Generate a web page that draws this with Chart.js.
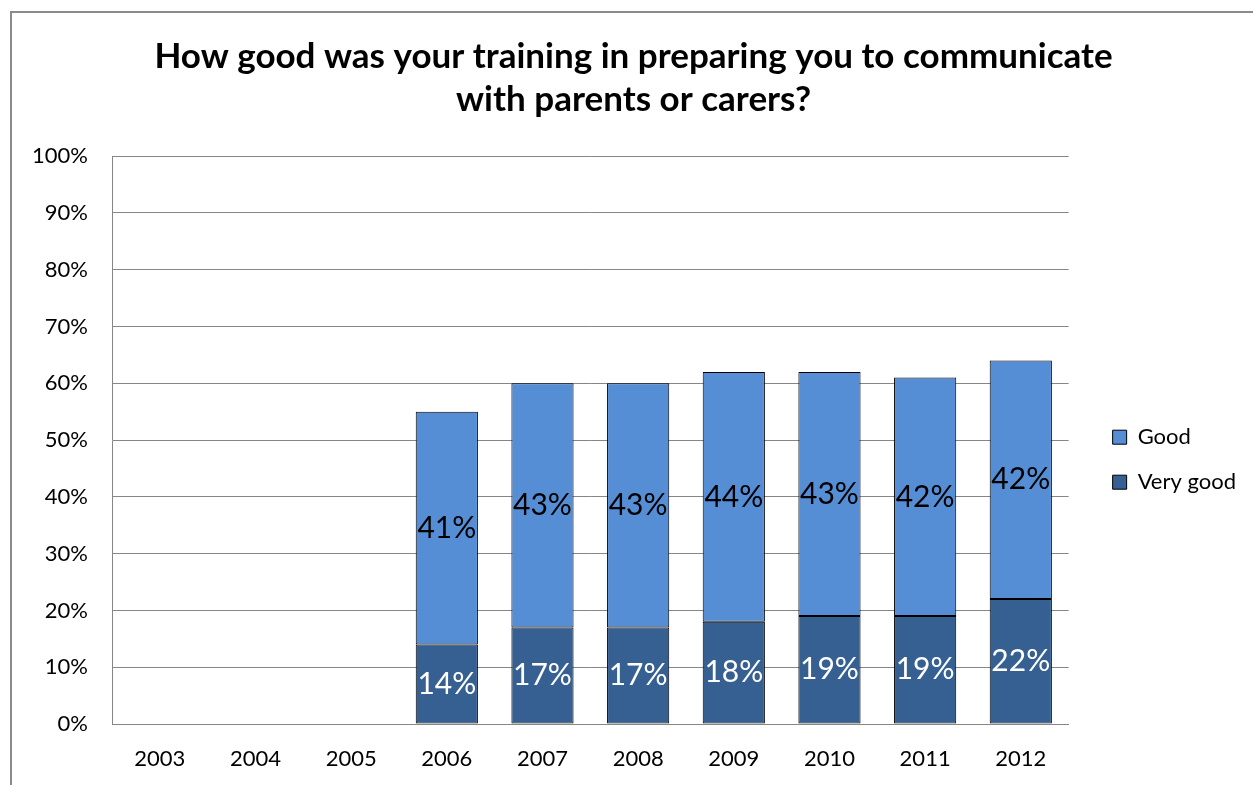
<!DOCTYPE html>
<html>
<head>
<meta charset="utf-8">
<script src="https://cdn.jsdelivr.net/npm/chart.js@4.4.1/dist/chart.umd.min.js"></script>
<style>
  html, body { margin: 0; padding: 0; background: #fff; overflow: hidden; }
  #wrap { position: relative; width: 1253px; height: 785px; }
  #frame { position: absolute; left: 10px; top: 11px; width: 1300px; height: 900px;
           border: 2px solid #8a8a8a; pointer-events: none; }
</style>
</head>
<body>
<div id="wrap">
  <canvas id="surveyChart" width="1253" height="785"></canvas>
  <div id="frame"></div>
</div>
<script>
const years    = ['2003', '2004', '2005', '2006', '2007', '2008', '2009', '2010', '2011', '2012'];
const veryGood = [null, null, null, 14, 17, 17, 18, 19, 19, 22];
const good     = [null, null, null, 41, 43, 43, 44, 43, 42, 42];
const yTicks   = [0, 10, 20, 30, 40, 50, 60, 70, 80, 90, 100];

const FONT = "Lato, 'Open Sans', sans-serif";
Chart.defaults.font.family = FONT;
Chart.defaults.color = '#000';

// writes the % value in the middle of every bar segment
const segmentLabels = {
    id: 'segmentLabels',
    afterDatasetsDraw(chart) {
        const ctx = chart.ctx;
        ctx.save();
        ctx.font = '30px ' + FONT;
        ctx.textAlign = 'center';
        ctx.textBaseline = 'middle';
        chart.data.datasets.forEach((ds, i) => {
            const meta = chart.getDatasetMeta(i);
            ctx.fillStyle = ds.labelColor;
            meta.data.forEach((bar, j) => {
                const v = ds.data[j];
                if (v == null) return;
                ctx.fillText(v + '%', bar.x, (bar.y + bar.base) / 2);
            });
        });
        ctx.restore();
    }
};

new Chart(document.getElementById('surveyChart'), {
    type: 'bar',
    data: {
        labels: years,
        datasets: [
            { label: 'Very good', data: veryGood, backgroundColor: '#376092', borderColor: '#000',
              borderWidth: 1, borderSkipped: false, labelColor: '#fff', barPercentage: 0.65, categoryPercentage: 1 },
            { label: 'Good',      data: good,     backgroundColor: '#558ed5', borderColor: '#000',
              borderWidth: 1, borderSkipped: false, labelColor: '#000', barPercentage: 0.65, categoryPercentage: 1 }
        ]
    },
    options: {
        responsive: false,
        animation: false,
        layout: { padding: { top: 0, left: 21, right: 7, bottom: 0 } },
        plugins: {
            title: {
                display: true,
                text: ['How good was your training in preparing you to communicate', 'with parents or carers?'],
                font: { size: 35, weight: 'bold', lineHeight: 1.23 },
                color: '#000',
                padding: { top: 35, bottom: 35 }
            },
            legend: {
                position: 'right',
                reverse: true,
                // empty title only pushes the two entries down
                title: { display: true, text: '', font: { size: 22 }, padding: { top: 0, bottom: 108 } },
                labels: { boxWidth: 14, boxHeight: 14, padding: 23, font: { size: 22 }, color: '#000' }
            },
            tooltip: { enabled: false }
        },
        scales: {
            x: {
                stacked: true,
                grid: { display: false, drawTicks: false },
                border: { color: '#868686' },
                ticks: { padding: 22, font: { size: 22 }, color: '#000' },
                afterFit: s => { s.height = 61; }
            },
            y: {
                stacked: true,
                min: 0, max: 100,
                afterBuildTicks: s => { s.ticks = yTicks.map(v => ({ value: v })); },
                grid: { color: '#868686', drawTicks: false },
                border: { color: '#868686' },
                ticks: { padding: 24, font: { size: 22 }, color: '#000', callback: v => v + '%' },
                afterFit: s => { s.width = 91; }
            },
            gap: {
                // empty strip between the plot and the legend
                position: 'right',
                display: true,
                grid: { display: false, drawTicks: false },
                border: { display: false },
                ticks: { display: false },
                afterFit: s => { s.width = 21; }
            }
        }
    },
    plugins: [segmentLabels]
});
</script>
</body>
</html>
